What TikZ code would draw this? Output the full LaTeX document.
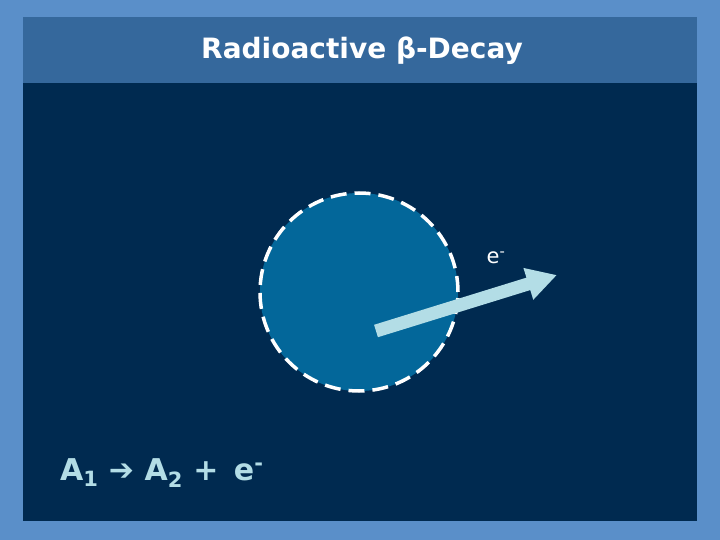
\documentclass[tikz,border=0pt]{standalone}
\usepackage{fontspec}
\setmainfont{DejaVu Sans}
\usetikzlibrary{arrows.meta}
\definecolor{outerbg}{HTML}{5A8FC9}
\definecolor{titlebar}{HTML}{35689C}
\definecolor{panel}{HTML}{002A50}
\definecolor{nucleus}{HTML}{03679A}
\definecolor{ray}{HTML}{B3DDE6}
\tikzset{
  titletext/.style={font=\bfseries\fontsize{28}{32}\selectfont, text=white},
  eqtext/.style={font=\bfseries\fontsize{30}{34}\selectfont, text=ray, anchor=base west, inner sep=0pt},
  elabel/.style={font=\fontsize{21}{25}\selectfont, text=white},
  nucleusstyle/.style={circle, fill=nucleus, draw=white, line width=3.5pt, dash pattern=on 16pt off 8pt, minimum size=198pt, inner sep=0pt},
  raystyle/.style={draw=ray, line width=13pt, -{Triangle[length=30pt,width=31pt]}}
}
\begin{document}
\begin{tikzpicture}[x=1pt,y=-1pt]
\fill[outerbg] (0,0) rectangle (720,540);
\useasboundingbox (0,0) rectangle (720,540);
\fill[panel] (23,17) rectangle (697,521);
\fill[titlebar] (23,17) rectangle (697,83);
\node[titletext] (title) at (362,51) {Radioactive β-Decay};
\node[nucleusstyle] (nuc) at (359,292) {};
\coordinate (s) at (376,331);
\coordinate (t) at (557,275);
\draw[raystyle] (s) -- (t);
\node[elabel] (e) at (496,258) {e\textsuperscript{-}};
\node[eqtext] (eq) at (60,480) {A\textsubscript{1} ➔ A\textsubscript{2} +\, e\textsuperscript{-}};
\end{tikzpicture}
\end{document}
